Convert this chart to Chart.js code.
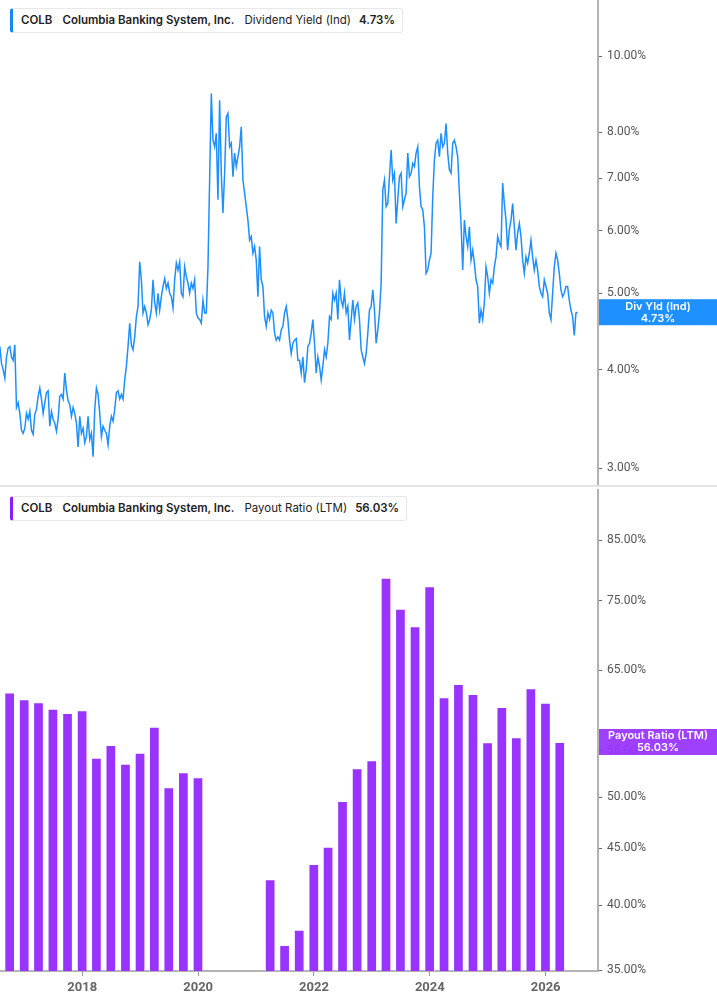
<!DOCTYPE html>
<html>
<head>
<meta charset="utf-8">
<script src="https://cdn.jsdelivr.net/npm/chart.js@4.4.1/dist/chart.umd.min.js"></script>
<style>
html, body { margin: 0; padding: 0; background: #fff; }
#wrap { position: relative; width: 717px; height: 1005px; overflow: hidden; font-family: Inter, "Noto Sans", sans-serif; }
canvas { position: absolute; left: 0; }
#yieldChart { top: 0; }
#payoutChart { top: 487px; }
.sep { position: absolute; left: 0; top: 485px; width: 717px; height: 2px; background: #e3e3e3; }
.hdr { position: absolute; left: 10px; height: 23px; line-height: 23px; padding: 0 7px 0 8px; background: #fff;
       border: 1px solid #e8e8e8; border-left: 3px solid; border-radius: 3px; font-size: 11.5px; color: #222; white-space: nowrap; }
.hdr b { font-weight: 600; margin-right: 10px; }
.hdr span { margin-right: 8px; }
.hdr b:last-child { margin-right: 0; }
</style>
</head>
<body>
<div id="wrap">
  <canvas id="yieldChart" width="717" height="485"></canvas>
  <div class="sep"></div>
  <canvas id="payoutChart" width="717" height="518"></canvas>
  <div class="hdr" id="hdrYield" style="top:8px;border-left-color:#1a86f5">
    <b>COLB</b><b>Columbia Banking System, Inc.</b><span>Dividend Yield (Ind)</span><b id="yieldLast"></b>
  </div>
  <div class="hdr" id="hdrPayout" style="top:496px;border-left-color:#8a1cff">
    <b>COLB</b><b>Columbia Banking System, Inc.</b><span>Payout Ratio (LTM)</span><b id="payoutLast"></b>
  </div>
</div>
<script>
// shared time axis
const axisStart = '2016-07-31';
const axisEnd = '2026-11-27';
const yearTicks = [2018, 2020, 2022, 2024, 2026];

// dividend yield (%), sampled every ~10.5 days
const yieldStartDate = '2016-07-30';
const yieldStepDays = 10.5;
const yieldValues = [
  4.28, 4.07, 4.00, 3.90, 4.15, 4.26, 4.28, 4.15, 4.11, 4.30,
  3.58, 3.63, 3.52, 3.35, 3.32, 3.37, 3.52, 3.46, 3.54, 3.35,
  3.31, 3.51, 3.56, 3.70, 3.79, 3.67, 3.52, 3.63, 3.74, 3.76,
  3.39, 3.54, 3.46, 3.42, 3.34, 3.46, 3.70, 3.72, 3.67, 3.96,
  3.77, 3.65, 3.61, 3.49, 3.58, 3.52, 3.42, 3.19, 3.49, 3.32,
  3.37, 3.23, 3.29, 3.49, 3.26, 3.32, 3.10, 3.56, 3.79, 3.72,
  3.52, 3.29, 3.39, 3.35, 3.32, 3.21, 3.39, 3.49, 3.44, 3.56,
  3.74, 3.76, 3.67, 3.72, 3.67, 3.88, 4.04, 4.28, 4.58, 4.30,
  4.24, 4.40, 4.67, 4.81, 5.48, 5.20, 4.72, 4.81, 4.72, 4.56,
  4.63, 4.76, 5.20, 4.86, 4.72, 5.00, 4.76, 4.95, 5.10, 5.22,
  5.07, 5.15, 5.00, 4.95, 4.79, 5.20, 5.46, 5.35, 5.48, 5.00,
  4.95, 5.40, 5.25, 5.15, 5.00, 5.15, 5.07, 5.20, 4.72, 4.65,
  4.63, 4.58, 4.90, 4.72, 4.72, 5.40, 6.96, 8.96, 7.82, 7.67,
  7.98, 6.57, 8.79, 7.10, 6.32, 7.10, 8.37, 8.46, 7.67, 7.75,
  7.03, 7.53, 7.24, 7.45, 7.67, 8.13, 6.96, 6.70, 6.44, 6.19,
  5.84, 5.90, 5.62, 5.73, 5.51, 4.95, 5.73, 5.20, 5.10, 4.67,
  4.54, 4.72, 4.63, 4.76, 4.72, 4.45, 4.36, 4.40, 4.36, 4.49,
  4.54, 4.72, 4.81, 4.63, 4.36, 4.19, 4.32, 4.36, 4.38, 4.11,
  4.11, 3.96, 4.15, 3.85, 4.00, 4.28, 4.32, 4.45, 4.63, 4.32,
  3.96, 4.15, 4.04, 3.88, 4.04, 4.24, 4.15, 4.32, 4.67, 4.63,
  5.00, 4.90, 5.00, 4.63, 5.20, 4.90, 4.81, 5.00, 4.72, 4.81,
  4.36, 4.63, 4.90, 4.63, 4.81, 4.86, 4.63, 4.24, 4.15, 4.07,
  4.19, 4.45, 4.76, 4.81, 5.05, 4.76, 4.32, 4.49, 4.72, 5.15,
  6.76, 6.96, 6.44, 6.50, 7.03, 7.60, 6.96, 7.10, 6.13, 6.57,
  7.03, 7.10, 6.44, 6.57, 6.70, 7.53, 7.03, 7.10, 7.31, 7.24,
  7.53, 7.67, 6.83, 6.44, 6.38, 6.07, 5.30, 5.35, 5.51, 5.62,
  6.63, 7.38, 7.75, 7.82, 7.45, 7.98, 7.67, 7.75, 8.21, 7.53,
  7.17, 7.10, 7.75, 7.82, 7.67, 7.45, 6.70, 6.13, 5.35, 6.19,
  5.90, 5.73, 6.07, 5.51, 5.67, 5.46, 5.20, 5.10, 4.58, 4.76,
  4.63, 4.86, 5.40, 5.25, 5.00, 5.20, 5.15, 5.40, 5.56, 5.90,
  5.79, 5.73, 6.90, 6.50, 6.19, 5.67, 6.02, 6.19, 6.50, 6.07,
  5.67, 5.96, 6.13, 5.90, 5.51, 5.30, 5.56, 5.46, 5.62, 5.84,
  5.56, 5.35, 5.51, 5.35, 5.10, 5.00, 4.95, 5.20, 5.10, 5.00,
  4.72, 4.63, 5.00, 5.40, 5.62, 5.51, 5.30, 5.05, 4.95, 5.00,
  5.10, 5.10, 4.90, 4.76, 4.67, 4.42, 4.72, 4.73
];
const yieldTicks = [3, 4, 5, 6, 7, 8, 10];

// payout ratio (LTM, %), quarter ends
const payoutDates = [
  '2016-06-30', '2016-09-30', '2016-12-31', '2017-03-31', '2017-06-30', '2017-09-30', '2017-12-31',
  '2018-03-31', '2018-06-30', '2018-09-30', '2018-12-31', '2019-03-31', '2019-06-30', '2019-09-30', '2019-12-31',
  '2020-03-31', '2020-06-30', '2020-09-30', '2020-12-31',
  '2021-03-31', '2021-06-30', '2021-09-30', '2021-12-31', '2022-03-31', '2022-06-30', '2022-09-30', '2022-12-31',
  '2023-03-31', '2023-06-30', '2023-09-30', '2023-12-31', '2024-03-31', '2024-06-30', '2024-09-30', '2024-12-31',
  '2025-03-31', '2025-06-30', '2025-09-30', '2025-12-31', '2026-03-31'
];
const payoutValues = [
  62.25, 62.07, 61.19, 60.81, 60.01, 59.48, 59.82,
  54.24, 55.68, 53.58, 54.80, 57.83, 51.03, 52.63, 52.09,
  null, null, null, null,
  42.20, 36.86, 38.03, 43.55, 45.14, 49.61, 53.07, 53.95,
  78.63, 73.76, 71.14, 77.26, 61.44, 63.15, 61.86, 55.99,
  60.22, 56.58, 62.59, 60.76, 56.03
];
const payoutTicks = [35, 40, 45, 50, 55, 65, 75, 85];

function toYear(s) {
  const d = new Date(s + 'T00:00:00Z');
  const y = d.getUTCFullYear();
  const a = Date.UTC(y, 0, 1), b = Date.UTC(y + 1, 0, 1);
  return y + (d.getTime() - a) / (b - a);
}

const xMin = toYear(axisStart);
const xMax = toYear(axisEnd);
const yieldStart = toYear(yieldStartDate);
const yieldPoints = yieldValues.map((v, i) => ({ x: yieldStart + i * yieldStepDays / 365.25, y: v }));
const payoutPoints = payoutDates.map((d, i) => ({ x: toYear(d), y: payoutValues[i] }));

const yieldLast = yieldValues[yieldValues.length - 1];
const payoutLast = payoutValues[payoutValues.length - 1];
document.getElementById('yieldLast').textContent = yieldLast.toFixed(2) + '%';
document.getElementById('payoutLast').textContent = payoutLast.toFixed(2) + '%';

function lastValueBox(label, color, value) {
  return {
    id: 'lastValueBox',
    afterDraw(chart) {
      const ctx = chart.ctx;
      const area = chart.chartArea;
      const y = chart.scales.y.getPixelForValue(value);
      const left = area.right + 1;
      ctx.save();
      ctx.fillStyle = color;
      ctx.fillRect(left, y - 13, chart.width - left, 26);
      ctx.fillStyle = '#fff';
      ctx.font = '600 11px Inter';
      ctx.textAlign = 'center';
      ctx.textBaseline = 'middle';
      const cx = (left + chart.width) / 2;
      ctx.fillText(label, cx, y - 6);
      ctx.fillText(value.toFixed(2) + '%', cx, y + 6);
      ctx.restore();
    }
  };
}

// no label overhang padding, fixed width
function fitRight(s) {
  s.width = 119;
  s.paddingTop = 0;
  s.paddingBottom = 0;
}

function rightAxis(min, max, tickList) {
  return {
    type: 'logarithmic',
    position: 'right',
    min: min,
    max: max,
    afterBuildTicks: s => { s.ticks = tickList.map(v => ({ value: v })); },
    afterFit: fitRight,
    ticks: {
      autoSkip: false,
      callback: v => Number(v).toFixed(2) + '%',
      color: '#555',
      font: { family: 'Roboto', size: 12 },
      padding: 5
    },
    grid: { drawOnChartArea: false, drawTicks: true, tickLength: 4, color: '#666' },
    border: { color: '#b3b3b3', width: 2 }
  };
}

new Chart(document.getElementById('yieldChart'), {
  type: 'line',
  data: {
    datasets: [{
      data: yieldPoints,
      borderColor: '#1e8fff',
      borderWidth: 1.5,
      pointRadius: 0,
      tension: 0
    }]
  },
  options: {
    responsive: false,
    animation: false,
    events: [],
    layout: { padding: { top: 0, bottom: 1, left: 0, right: 0 } },
    plugins: { legend: { display: false }, tooltip: { enabled: false } },
    scales: {
      x: { type: 'linear', min: xMin, max: xMax, display: false },
      y: rightAxis(2.863, 11.78, yieldTicks)
    }
  },
  plugins: [lastValueBox('Div Yld (Ind)', '#1e90ff', yieldLast)]
});

new Chart(document.getElementById('payoutChart'), {
  type: 'bar',
  data: {
    datasets: [{
      data: payoutPoints,
      backgroundColor: '#9933ff',
      borderColor: 'rgba(255,255,255,0.45)',
      borderWidth: { top: 1, left: 1, right: 1, bottom: 0 },
      borderSkipped: 'bottom',
      barPercentage: 0.75,
      categoryPercentage: 1
    }]
  },
  options: {
    responsive: false,
    animation: false,
    events: [],
    layout: { padding: { top: 3, bottom: 0, left: 0, right: 0 } },
    plugins: { legend: { display: false }, tooltip: { enabled: false } },
    scales: {
      x: {
        type: 'linear',
        offset: false,
        min: xMin,
        max: xMax,
        afterBuildTicks: s => { s.ticks = yearTicks.map(v => ({ value: v })); },
        afterFit: s => { s.height = 34; s.paddingLeft = 0; s.paddingRight = 0; },
        ticks: {
          autoSkip: false,
          maxRotation: 0,
          callback: v => String(v),
          color: '#666',
          font: { family: 'Roboto', size: 13, weight: 'bold' },
          padding: 4
        },
        grid: { drawOnChartArea: false, offset: false, tickLength: 5, color: '#999' },
        border: { color: '#b3b3b3', width: 2 }
      },
      y: rightAxis(34.93, 94.24, payoutTicks)
    }
  },
  plugins: [lastValueBox('Payout Ratio (LTM)', 'rgba(153,51,255,0.94)', payoutLast)]
});
</script>
</body>
</html>
